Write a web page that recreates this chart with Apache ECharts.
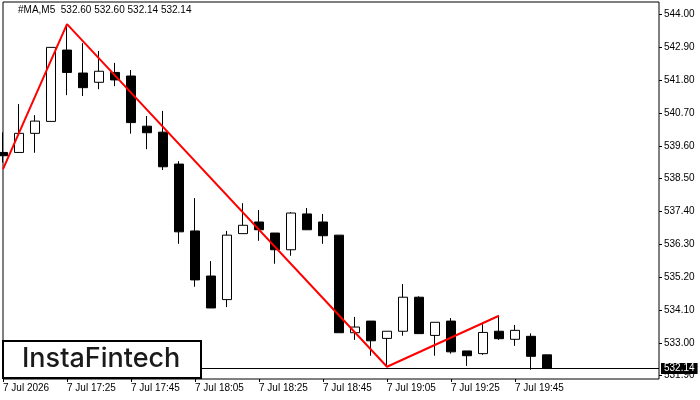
<!DOCTYPE html>
<html lang="en">
<head>
    <meta charset="UTF-8">
    <title>#MA,M5</title>
    <style>
        html, body { margin: 0; padding: 0; background: #fff; }
        #chart { width: 700px; height: 400px; }
    </style>
</head>
<body>
<div id="chart"></div>
<script src="https://cdn.jsdelivr.net/npm/echarts@6/dist/echarts.min.js"></script>
<script>
    // bar times (M5), 17:05 .. 19:55
    var times = ['17:05', '17:10', '17:15', '17:20', '17:25', '17:30', '17:35', '17:40', '17:45', '17:50',
        '17:55', '18:00', '18:05', '18:10', '18:15', '18:20', '18:25', '18:30', '18:35', '18:40',
        '18:45', '18:50', '18:55', '19:00', '19:05', '19:10', '19:15', '19:20', '19:25', '19:30',
        '19:35', '19:40', '19:45', '19:50', '19:55'];
    var openPrices = [539.38, 539.38, 540.02, 540.42, 542.81, 542.04, 541.73, 542.06, 541.94, 540.26,
        540.06, 538.99, 536.75, 535.24, 534.45, 536.66, 537.05, 536.68, 536.12, 537.32,
        537.05, 536.61, 533.34, 533.73, 533.15, 533.39, 534.53, 533.25, 533.73, 532.73,
        532.64, 533.39, 533.12, 533.22, 532.60];
    var highPrices = [540.05, 541.00, 540.63, 542.90, 543.68, 543.04, 542.78, 542.38, 542.14, 540.60,
        540.77, 539.09, 537.85, 535.74, 536.75, 537.68, 537.45, 536.68, 537.38, 537.52,
        537.32, 536.61, 533.87, 533.73, 533.39, 534.97, 534.56, 533.69, 533.83, 532.73,
        533.69, 533.91, 533.60, 533.32, 532.60];
    var lowPrices = [539.04, 539.38, 539.37, 540.42, 541.30, 541.27, 541.50, 541.60, 540.01, 539.49,
        538.79, 536.32, 534.88, 534.17, 534.20, 536.66, 536.42, 535.65, 535.92, 536.79,
        536.32, 533.34, 533.10, 532.57, 532.20, 533.24, 533.31, 532.57, 532.64, 532.23,
        532.60, 533.10, 532.90, 532.10, 532.14];
    var closePrices = [539.27, 540.02, 540.43, 542.90, 542.06, 541.55, 542.10, 541.81, 540.38, 540.04,
        538.90, 536.72, 535.11, 534.17, 536.61, 536.94, 536.79, 536.12, 537.35, 536.79,
        536.59, 533.34, 533.53, 533.07, 533.39, 534.53, 533.31, 533.69, 532.70, 532.57,
        533.35, 533.14, 533.42, 532.55, 532.14];
    // double top pattern line: bar index -> price
    var patternIdx = [0, 4, 24, 31];
    var patternPrices = [538.82, 543.68, 532.20, 533.91];
    var priceTicks = [531.90, 533.00, 534.10, 535.20, 536.30, 537.40, 538.50, 539.60, 540.70, 541.80, 542.90, 544.00];
    var lastPrice = 532.14;
    var emptyBars = 7;

    var chart = echarts.init(document.getElementById('chart'));

    var categories = times.slice();
    for (var e = 0; e < emptyBars; e++) categories.push('');

    var candles = [];
    for (var i = 0; i < times.length; i++) {
        candles.push([openPrices[i], closePrices[i], lowPrices[i], highPrices[i]]);
    }
    var pattern = categories.map(function () { return null; });
    for (var j = 0; j < patternIdx.length; j++) pattern[patternIdx[j]] = patternPrices[j];

    var font = 'Liberation Sans, Arial, sans-serif';

    chart.setOption({
        animation: false,
        backgroundColor: '#fff',
        grid: {left: 3, right: 41, top: 2, bottom: 21, show: true, borderColor: '#000', borderWidth: 1, backgroundColor: 'transparent'},
        xAxis: {
            type: 'category',
            data: categories,
            boundaryGap: false,
            axisLine: {show: false},
            axisTick: {
                show: true, length: 3, lineStyle: {color: '#000'},
                interval: function (idx) { return idx % 4 === 0 && idx < times.length; }
            },
            axisLabel: {
                interval: function (idx) { return idx % 4 === 0 && idx < times.length; },
                align: 'left', margin: 4, fontSize: 10, color: '#000', fontFamily: font,
                formatter: function (v, idx) {
                    if (!v) return '';
                    return idx === 0 ? '7 Jul 2026' : '7 Jul ' + v;
                }
            },
            splitLine: {show: false}
        },
        yAxis: {
            type: 'value',
            position: 'right',
            min: 531.79,
            max: 544.42,
            axisLine: {show: false},
            axisTick: {show: true, length: 3, lineStyle: {color: '#000'}, customValues: priceTicks},
            axisLabel: {
                customValues: priceTicks, margin: 5, fontSize: 10, color: '#000', fontFamily: font,
                formatter: function (v) { return v.toFixed(2); }
            },
            splitLine: {show: false}
        },
        series: [
            {
                type: 'candlestick',
                data: candles,
                barWidth: 10,
                itemStyle: {
                    color: '#fff', borderColor: '#000',
                    color0: '#000', borderColor0: '#000',
                    borderWidth: 1
                },
                markLine: {
                    silent: true,
                    symbol: 'none',
                    lineStyle: {color: '#000', width: 1, type: 'solid'},
                    label: {
                        show: true, position: 'end', distance: 2,
                        backgroundColor: '#000', color: '#fff', padding: [1, 3, 0, 3],
                        fontSize: 10, fontFamily: font,
                        formatter: function () { return lastPrice.toFixed(2); }
                    },
                    data: [{yAxis: lastPrice}]
                }
            },
            {
                type: 'line',
                data: pattern,
                connectNulls: true,
                symbol: 'none',
                lineStyle: {color: '#ff0000', width: 2},
                z: 5
            }
        ],
        graphic: [
            {
                type: 'text', left: 18, top: 5,
                style: {text: '#MA,M5  532.60 532.60 532.14 532.14', fontSize: 10, fontFamily: font, fill: '#000'}
            },
            {
                type: 'rect', z: 100,
                shape: {x: 3, y: 341, width: 198, height: 37},
                style: {fill: '#fff', stroke: '#000', lineWidth: 2}
            },
            {
                type: 'text', z: 101, left: 22, top: 345,
                style: {text: 'InstaFintech', fontSize: 27, fontWeight: 500, fontFamily: 'Inter, Lato, sans-serif', fill: '#1a1a1a'}
            }
        ]
    });
</script>
</body>
</html>
